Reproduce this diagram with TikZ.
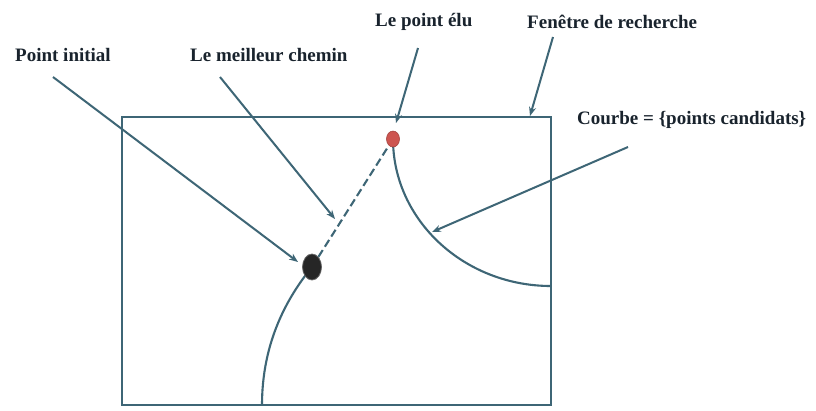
\documentclass[tikz,border=0pt]{standalone}
\usepackage{fontspec}
\setmainfont{Liberation Serif}
\usetikzlibrary{arrows.meta,shapes.geometric}
\definecolor{linec}{RGB}{62,102,118}
\definecolor{txtc}{RGB}{25,35,45}
\definecolor{redpt}{RGB}{205,85,80}
\tikzset{
  lbl/.style={font=\bfseries\fontsize{19}{22}\selectfont, text=txtc, inner sep=0pt, anchor=west},
  pointer/.style={draw=linec, line width=2pt, -{Stealth[length=9pt,width=7pt]}},
  curve/.style={draw=linec, line width=2.1pt},
  frame/.style={draw=linec, line width=2.2pt},
}
\begin{document}
\begin{tikzpicture}[x=1pt,y=-1pt]
\useasboundingbox (0,0) rectangle (816,410);
\fill[white] (0,0) rectangle (816,410);
% search window
\draw[frame] (122,117) rectangle (551,405);
\coordinate (winTop) at (530,116);
% curves
\coordinate (candStart) at (393,139);
\coordinate (candEnd) at (551,286);
\draw[curve] (candStart) .. controls (393,220) and (464,286) .. (candEnd);
\coordinate (initStart) at (312,267);
\coordinate (initEnd) at (262,405);
\draw[curve] (initEnd) .. controls (262,345) and (285,300) .. (initStart);
% points
\node[ellipse, fill=black!85, draw=black!60, line width=0.8pt, minimum width=19pt, minimum height=26pt, inner sep=0pt] (pinit) at (312,267) {};
\node[ellipse, fill=redpt, draw=redpt!80!black, line width=0.6pt, minimum width=13pt, minimum height=16pt, inner sep=0pt] (pelu) at (393,139) {};
% best path
\draw[curve, dash pattern=on 8pt off 4pt] (pinit) -- (pelu);
% labels
\node[lbl] (lInit) at (15,55) {Point initial};
\node[lbl] (lChemin) at (190,55) {Le meilleur chemin};
\node[lbl] (lElu) at (375,22) {Le point élu};
\node[lbl] (lFen) at (527,22) {Fenêtre de recherche};
\node[lbl] (lCourbe) at (577,120) {Courbe = \{points candidats\}};
% arrow ends
\coordinate (sInit) at (53,77);
\coordinate (tInit) at (298,262);
\coordinate (sChemin) at (220,77);
\coordinate (tChemin) at (335,219);
\coordinate (sElu) at (418,48);
\coordinate (tElu) at (396,123);
\coordinate (sFen) at (553,37);
\coordinate (sCourbe) at (628,147);
\coordinate (tCourbe) at (432,232);
\draw[pointer] (sInit) -- (tInit);
\draw[pointer] (sChemin) -- (tChemin);
\draw[pointer] (sElu) -- (tElu);
\draw[pointer] (sFen) -- (winTop);
\draw[pointer] (sCourbe) -- (tCourbe);
\end{tikzpicture}
\end{document}
